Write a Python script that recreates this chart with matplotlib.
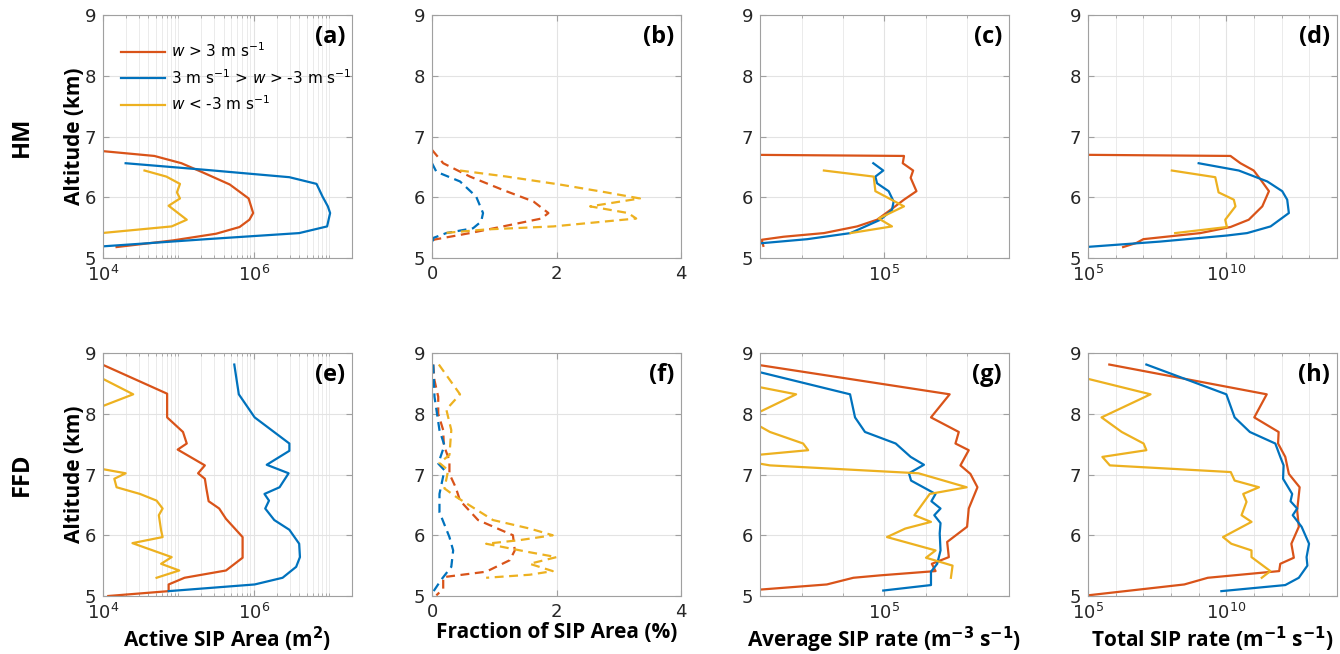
import numpy as np
import matplotlib.pyplot as plt
from matplotlib.ticker import FixedLocator, LogFormatterSciNotation, NullFormatter

plt.rcParams['font.family'] = ['DejaVu Sans']

RED = '#D95319'
BLUE = '#0072BD'
YEL = '#EDB120'

# ---- HM row: altitude (km) and values (log10 for log panels) ----
a_red_alt = [6.76, 6.68, 6.56, 6.41, 6.21, 5.98, 5.74, 5.63, 5.51, 5.40, 5.29, 5.18]
a_red_log = [3.99, 4.68, 5.04, 5.32, 5.68, 5.93, 5.99, 5.94, 5.81, 5.50, 4.93, 4.18]
a_blue_alt = [6.56, 6.45, 6.33, 6.22, 6.01, 5.85, 5.74, 5.52, 5.41, 5.31, 5.19]
a_blue_log = [4.30, 5.37, 6.47, 6.83, 6.91, 6.98, 7.01, 6.97, 6.60, 5.37, 3.98]
a_yel_alt = [6.44, 6.34, 6.22, 6.08, 5.98, 5.86, 5.63, 5.52, 5.41]
a_yel_log = [4.55, 4.84, 5.02, 4.98, 5.02, 4.87, 5.11, 4.91, 3.98]

b_red_alt = [6.78, 6.56, 6.34, 6.12, 5.93, 5.74, 5.65, 5.52, 5.41, 5.30, 5.20]
b_red_val = [0.0, 0.18, 0.61, 1.14, 1.63, 1.87, 1.76, 1.14, 0.61, 0.02, 0.0]
b_blue_alt = [6.56, 6.42, 6.26, 6.01, 5.74, 5.60, 5.49, 5.41, 5.33, 5.19]
b_blue_val = [0.0, 0.07, 0.45, 0.71, 0.82, 0.79, 0.66, 0.23, 0.02, 0.0]
b_yel_alt = [6.44, 6.34, 6.21, 6.08, 5.98, 5.85, 5.74, 5.65, 5.52, 5.47, 5.41]
b_yel_val = [0.45, 1.20, 2.05, 2.80, 3.34, 2.54, 3.15, 3.28, 1.95, 0.87, 0.18]

c_red_alt = [6.70, 6.68, 6.56, 6.44, 6.32, 6.10, 5.96, 5.79, 5.63, 5.52, 5.41, 5.35, 5.30, 5.20]
c_red_log = [1.5, 5.47, 5.44, 5.69, 5.63, 5.77, 5.47, 5.14, 4.82, 4.34, 3.54, 2.57, 2.04, 2.08]
c_blue_alt = [6.56, 6.44, 6.34, 6.23, 6.10, 5.93, 5.79, 5.63, 5.41, 5.31, 5.24]
c_blue_log = [4.73, 4.97, 4.78, 4.82, 5.10, 5.22, 5.18, 4.90, 4.18, 3.14, 1.98]
c_yel_alt = [6.44, 6.34, 6.10, 5.85, 5.65, 5.52, 5.41]
c_yel_log = [3.54, 4.74, 4.78, 5.47, 4.86, 5.18, 4.18]

d_red_alt = [6.70, 6.68, 6.56, 6.44, 6.29, 6.10, 5.85, 5.63, 5.51, 5.41, 5.31, 5.25, 5.18]
d_red_log = [4.5, 10.15, 10.51, 10.99, 11.24, 11.54, 11.30, 10.81, 10.15, 9.06, 7.0, 6.76, 6.27]
d_blue_alt = [6.56, 6.44, 6.26, 6.10, 5.96, 5.74, 5.52, 5.41, 5.37, 5.27, 5.18]
d_blue_log = [9.0, 10.45, 11.48, 12.02, 12.20, 12.26, 11.60, 10.75, 10.02, 7.60, 4.9]
d_yel_alt = [6.44, 6.33, 6.08, 5.96, 5.85, 5.63, 5.51, 5.41]
d_yel_log = [8.03, 9.60, 9.72, 10.27, 10.33, 9.96, 10.02, 8.15]

# ---- FFD row ----
e_red_alt = [8.81, 8.33, 7.94, 7.70, 7.51, 7.41, 7.15, 7.02, 6.93, 6.77, 6.56, 6.44, 6.27,
             5.97, 5.63, 5.42, 5.30, 5.19, 5.08, 5.00]
e_red_log = [3.99, 4.85, 4.85, 5.06, 5.11, 4.99, 5.35, 5.26, 5.35, 5.37, 5.40, 5.54, 5.63,
             5.85, 5.85, 5.63, 5.08, 4.87, 4.87, 4.07]
e_blue_alt = [8.81, 8.32, 7.94, 7.51, 7.39, 7.16, 7.02, 6.79, 6.68, 6.57, 6.44, 6.25, 6.09,
              5.86, 5.64, 5.48, 5.30, 5.19, 5.08]
e_blue_log = [5.74, 5.80, 6.01, 6.47, 6.47, 6.17, 6.46, 6.34, 6.14, 6.20, 6.15, 6.27, 6.47,
              6.60, 6.61, 6.56, 6.38, 6.01, 4.87]
e_yel_alt = [8.58, 8.32, 8.08, 7.60, 7.11, 7.02, 6.93, 6.79, 6.68, 6.57, 6.44, 6.33, 6.08,
             5.97, 5.87, 5.64, 5.53, 5.42, 5.30]
e_yel_log = [3.99, 4.40, 3.9, 3.0, 3.9, 4.30, 4.15, 4.18, 4.49, 4.71, 4.79, 4.74, 4.77,
             4.79, 4.39, 4.91, 4.77, 5.01, 4.71]

f_red_alt = [8.81, 8.55, 8.28, 8.00, 7.73, 7.48, 7.23, 7.01, 6.79, 6.57, 6.25, 6.00, 5.75,
             5.59, 5.40, 5.31, 5.12, 5.01]
f_red_val = [0.02, 0.04, 0.10, 0.10, 0.18, 0.19, 0.28, 0.28, 0.38, 0.45, 0.74, 1.30, 1.33,
             1.25, 0.87, 0.18, 0.18, 0.07]
f_blue_alt = [8.81, 8.28, 7.73, 7.48, 7.18, 7.07, 6.68, 6.38, 5.97, 5.75, 5.48, 5.27, 5.04]
f_blue_val = [0.02, 0.04, 0.12, 0.20, 0.10, 0.20, 0.12, 0.12, 0.28, 0.34, 0.31, 0.15, 0.0]
f_yel_alt = [8.81, 8.32, 8.07, 7.73, 7.32, 7.19, 7.07, 6.77, 6.63, 6.25, 6.11, 6.00, 5.92,
             5.86, 5.72, 5.64, 5.53, 5.41, 5.35, 5.30]
f_yel_val = [0.11, 0.45, 0.23, 0.31, 0.28, 0.12, 0.26, 0.20, 0.39, 0.98, 1.57, 1.94, 1.41,
             0.87, 1.57, 2.0, 1.57, 1.94, 1.57, 0.87]

g_red_alt = [8.81, 8.32, 7.94, 7.70, 7.51, 7.40, 7.15, 7.01, 6.79, 6.44, 6.14, 5.89, 5.64,
             5.53, 5.41, 5.34, 5.30, 5.19, 5.10]
g_red_log = [1.9, 6.57, 6.12, 6.79, 6.71, 7.03, 6.83, 7.07, 7.24, 7.03, 6.99, 6.51, 6.55,
             6.14, 6.23, 4.90, 4.25, 3.61, 1.9]
g_blue_alt = [8.70, 8.32, 7.94, 7.70, 7.51, 7.29, 7.16, 7.02, 6.90, 6.68, 6.56, 6.44, 6.33,
              6.20, 6.03, 5.75, 5.53, 5.40, 5.18, 5.09]
g_blue_log = [1.9, 4.17, 4.29, 4.53, 5.27, 5.63, 5.95, 5.59, 5.64, 6.23, 6.13, 6.35, 6.20,
              6.35, 6.33, 6.35, 6.27, 6.12, 6.12, 4.97]
g_yel_alt = [8.45, 8.32, 8.00, 7.90, 7.83, 7.70, 7.51, 7.40, 7.32, 7.25, 7.19, 7.15, 7.02,
             6.79, 6.68, 6.33, 6.22, 6.11, 5.97, 5.75, 5.63, 5.50, 5.30]
g_yel_log = [1.9, 2.87, 1.9, 1.5, 1.9, 2.24, 3.04, 3.16, 1.9, 1.5, 1.9, 2.24, 5.82,
             6.98, 6.09, 5.72, 6.12, 5.50, 5.06, 6.23, 6.0, 6.64, 6.60]

h_red_alt = [8.81, 8.32, 7.94, 7.70, 7.51, 7.29, 7.01, 6.79, 6.41, 6.14, 5.86, 5.63, 5.53,
             5.41, 5.30, 5.19, 5.01]
h_red_log = [5.77, 11.46, 11.01, 11.89, 11.87, 12.13, 12.26, 12.65, 12.56, 12.62, 12.35, 12.44,
             11.95, 11.91, 9.33, 8.48, 4.98]
h_blue_alt = [8.81, 8.32, 7.94, 7.70, 7.51, 7.29, 7.15, 6.93, 6.68, 6.56, 6.44, 6.33, 6.14,
              5.86, 5.64, 5.50, 5.30, 5.18, 5.08]
h_blue_log = [7.11, 10.0, 10.30, 10.85, 11.77, 11.95, 12.07, 12.05, 12.38, 12.32, 12.56, 12.40,
              12.72, 12.99, 12.90, 12.93, 12.62, 12.13, 9.82]
h_yel_alt = [8.58, 8.32, 7.94, 7.70, 7.51, 7.40, 7.29, 7.15, 7.04, 6.90, 6.79, 6.68, 6.55,
             6.33, 6.22, 5.97, 5.86, 5.75, 5.64, 5.41, 5.30]
h_yel_log = [4.95, 7.26, 5.49, 6.22, 7.01, 7.11, 5.52, 5.79, 10.16, 10.30, 11.18, 10.61, 10.73,
             10.55, 10.91, 9.88, 10.18, 10.91, 10.91, 11.59, 11.28]

panel_tags = ['(a)', '(b)', '(c)', '(d)', '(e)', '(f)', '(g)', '(h)']
xlabels = ['Active SIP Area (m$^\\mathbf{2}$)', 'Fraction of SIP Area (%)',
           'Average SIP rate (m$^\\mathbf{-3}$ s$^\\mathbf{-1}$)',
           'Total SIP rate (m$^\\mathbf{-1}$ s$^\\mathbf{-1}$)']
legend_labels = ['$\\mathit{w}$ > 3 m s$^{-1}$',
                 '3 m s$^{-1}$ > $\\mathit{w}$ > -3 m s$^{-1}$',
                 '$\\mathit{w}$ < -3 m s$^{-1}$']
row_labels = ['HM', 'FFD']

# x-axis setup per column: (log?, xlim, major ticks, minor ticks)
col_axes = [
    (True, (1e4, 10 ** 7.3), [1e4, 1e6], [m * 10.0 ** k for k in range(4, 8) for m in range(1, 10)]),
    (False, (0, 4), [0, 2, 4], []),
    (True, (1e2, 1e8), [1e5], [10.0 ** k for k in range(2, 9)]),
    (True, (1e5, 1e14), [1e5, 1e10], [10.0 ** k for k in range(5, 15)]),
]

series = [
    [(a_red_alt, a_red_log), (a_blue_alt, a_blue_log), (a_yel_alt, a_yel_log)],
    [(b_red_alt, b_red_val), (b_blue_alt, b_blue_val), (b_yel_alt, b_yel_val)],
    [(c_red_alt, c_red_log), (c_blue_alt, c_blue_log), (c_yel_alt, c_yel_log)],
    [(d_red_alt, d_red_log), (d_blue_alt, d_blue_log), (d_yel_alt, d_yel_log)],
    [(e_red_alt, e_red_log), (e_blue_alt, e_blue_log), (e_yel_alt, e_yel_log)],
    [(f_red_alt, f_red_val), (f_blue_alt, f_blue_val), (f_yel_alt, f_yel_val)],
    [(g_red_alt, g_red_log), (g_blue_alt, g_blue_log), (g_yel_alt, g_yel_log)],
    [(h_red_alt, h_red_log), (h_blue_alt, h_blue_log), (h_yel_alt, h_yel_log)],
]

fig = plt.figure(figsize=(13.4, 6.54), dpi=100)

lefts = [103, 432, 760, 1088]
tops = [15, 353]
W, H = 249, 243

for i in range(8):
    row, col = divmod(i, 4)
    ax = fig.add_axes([lefts[col] / 1340, 1 - (tops[row] + H) / 654, W / 1340, H / 654])
    is_log, xlim, majors, minors = col_axes[col]

    for (alt, val), color in zip(series[i], [RED, BLUE, YEL]):
        if is_log:
            ax.plot(np.power(10.0, val), alt, color=color, lw=1.6)
        else:
            ax.plot(val, alt, color=color, lw=1.6, ls='--', dashes=(4, 2.5))

    if is_log:
        ax.set_xscale('log')
        ax.xaxis.set_major_locator(FixedLocator(majors))
        ax.xaxis.set_major_formatter(LogFormatterSciNotation())
        ax.xaxis.set_minor_locator(FixedLocator(minors))
        ax.xaxis.set_minor_formatter(NullFormatter())
        ax.grid(True, which='minor', axis='x', color='#ebebeb', lw=0.7)
    else:
        ax.set_xticks(majors)
    ax.set_xlim(*xlim)
    ax.set_ylim(5, 9)
    ax.set_yticks([5, 6, 7, 8, 9])
    ax.grid(True, which='major', color='#e3e3e3', lw=0.8)
    ax.set_axisbelow(True)

    for sp in ax.spines.values():
        sp.set_color('#a0a0a0')
        sp.set_linewidth(0.8)
    ax.tick_params(which='both', direction='in', top=True, right=True, color='#a0a0a0',
                   labelsize=13, labelcolor='#262626', pad=5)
    ax.tick_params(which='major', length=4)
    ax.tick_params(which='minor', length=2)

    ax.text(0.972, 0.91, panel_tags[i], transform=ax.transAxes, ha='right', va='center',
            fontsize=17, fontweight='bold', family='Open Sans')

    if col == 0:
        ax.set_ylabel('Altitude (km)', fontsize=15, fontweight='bold', family='Open Sans', labelpad=0)
        fig.text(22 / 1340, 1 - (tops[row] + H / 2) / 654, row_labels[row], rotation=90,
                 ha='center', va='center', fontsize=17, fontweight='bold', family='Open Sans')
    if row == 1:
        ax.set_xlabel(xlabels[col], fontsize=15, fontweight='bold', family='Open Sans', labelpad=1)

    if i == 0:
        handles = ax.get_lines()
        ax.legend(handles, legend_labels, loc='upper left', bbox_to_anchor=(0.028, 0.935),
                  frameon=False, fontsize=11, handlelength=2.9, labelspacing=0.5,
                  handletextpad=0.4, borderaxespad=0.3)

fig.savefig('out.png', dpi=100)
